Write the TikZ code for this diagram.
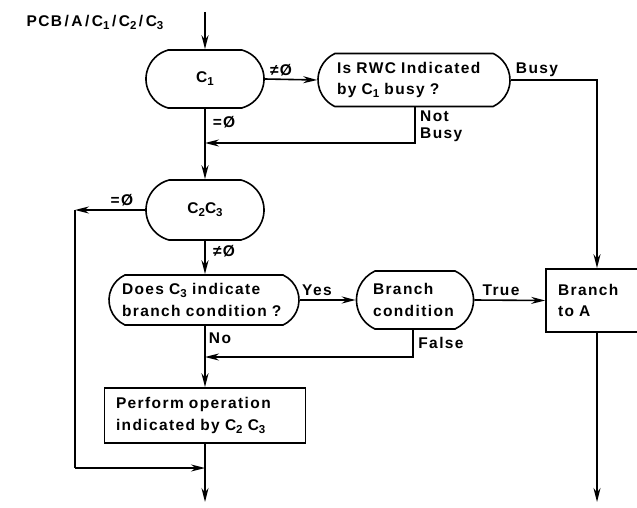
\documentclass[tikz,border=0pt]{standalone}
\usepackage{fontspec}
\setmainfont{Liberation Sans}[LetterSpace=9]
\usetikzlibrary{shapes.misc,arrows.meta}
\newcommand{\sbs}[1]{\raisebox{-3pt}{\fontsize{11.5}{12}\selectfont #1}}
\newcommand{\slsh}{\hspace{2.5pt}/\hspace{2.5pt}}
\begin{document}
\begin{tikzpicture}[x=1pt,y=-1pt,
  font=\fontsize{15.5}{21.5}\selectfont\bfseries,
  ln/.style={line width=1.6pt},
  arr/.style={line width=1.6pt,-{Stealth[length=14pt,width=7pt]}},
  term/.style={draw,line width=1.6pt,rounded rectangle,rounded rectangle arc length=150,inner sep=0pt,align=center},
  dec/.style={draw,line width=1.6pt,rounded rectangle,rounded rectangle arc length=130,inner sep=0pt,align=left},
  procbox/.style={draw,line width=1.6pt,rectangle,inner sep=0pt,align=left},
  lbl/.style={inner sep=0pt}]
\useasboundingbox (0,0) rectangle (637,508);
\clip (0,0) rectangle (637,508);
% title
\node[lbl] (title) at (95,22) {PCB\slsh A\slsh C\sbs{1}\slsh C\sbs{2}\slsh C\sbs{3}};
% nodes
\node[term,minimum width=118pt,minimum height=58pt] (c1) at (205,79) {C\sbs{1}};
\node[dec,minimum width=192pt,minimum height=53pt,text width=154pt] (rwc) at (414,80) {Is RWC Indicated\\by C\sbs{1} busy ?};
\node[term,minimum width=118pt,minimum height=60pt] (c23) at (205,210) {C\sbs{2}C\sbs{3}};
\node[dec,minimum width=190pt,minimum height=50pt,text width=164pt] (does) at (204,300) {Does C\sbs{3} indicate\\branch condition ?};
\node[dec,minimum width=117pt,minimum height=58pt,text width=84pt] (bc) at (415,300) {Branch\\condition};
\node[procbox,minimum width=114pt,minimum height=63pt,text width=90pt] (bta) at (603,300.5) {Branch\\to A};
\node[procbox,minimum width=201pt,minimum height=55pt,text width=178pt] (perf) at (205,415.5) {Perform operation\\indicated by C\sbs{2} C\sbs{3}};
% labels
\node[lbl] (l1) at (281,70) {≠Ø};
\node[lbl] (l2) at (537,70) {Busy};
\node[lbl,anchor=north west,align=left,font=\fontsize{15.5}{17}\selectfont\bfseries] (l3) at (420,111) {Not\\Busy};
\node[lbl] (l4) at (224,122) {=Ø};
\node[lbl] (l5) at (122,200) {=Ø};
\node[lbl] (l6) at (224,251) {≠Ø};
\node[lbl] (l7) at (317,290) {Yes};
\node[lbl] (l8) at (501,290) {True};
\node[lbl] (l9) at (220,338) {No};
\node[lbl] (l10) at (441,343) {False};
% coordinates
\coordinate (top) at (205,12);
\coordinate (bx) at (597,0);
\coordinate (nb) at (415,143);
\coordinate (fb) at (413,357);
\coordinate (lcorner) at (75,210);
\coordinate (jloop) at (205,468);
\coordinate (outL) at (205,502);
\coordinate (outR) at (597,502);
% connectors
\draw[arr] (top) -- (c1.north);
\draw[arr] (c1.east) -- (rwc.west);
\draw[arr] (rwc.east) -- (rwc.east -| bx) -- (bx |- bta.north);
\draw[arr] (nb |- rwc.south) -- (nb) -- (nb -| c1.south);
\draw[arr] (c1.south) -- (c23.north);
\draw[arr] (c23.west) -- (lcorner);
\draw[ln] (lcorner) -- (lcorner |- jloop);
\draw[arr] (lcorner |- jloop) -- (jloop);
\draw[arr] (c23.south) -- (c23.south |- does.north);
\draw[arr] (does.east) -- (bc.west);
\draw[arr] (bc.east) -- (bta.west);
\draw[arr] (fb |- bc.south) -- (fb) -- (fb -| c23.south);
\draw[arr] (c23.south |- does.south) -- (perf.north);
\draw[ln] (perf.south) -- (jloop);
\draw[arr] (jloop) -- (outL);
\draw[arr] (bx |- bta.south) -- (outR);
\end{tikzpicture}
\end{document}
